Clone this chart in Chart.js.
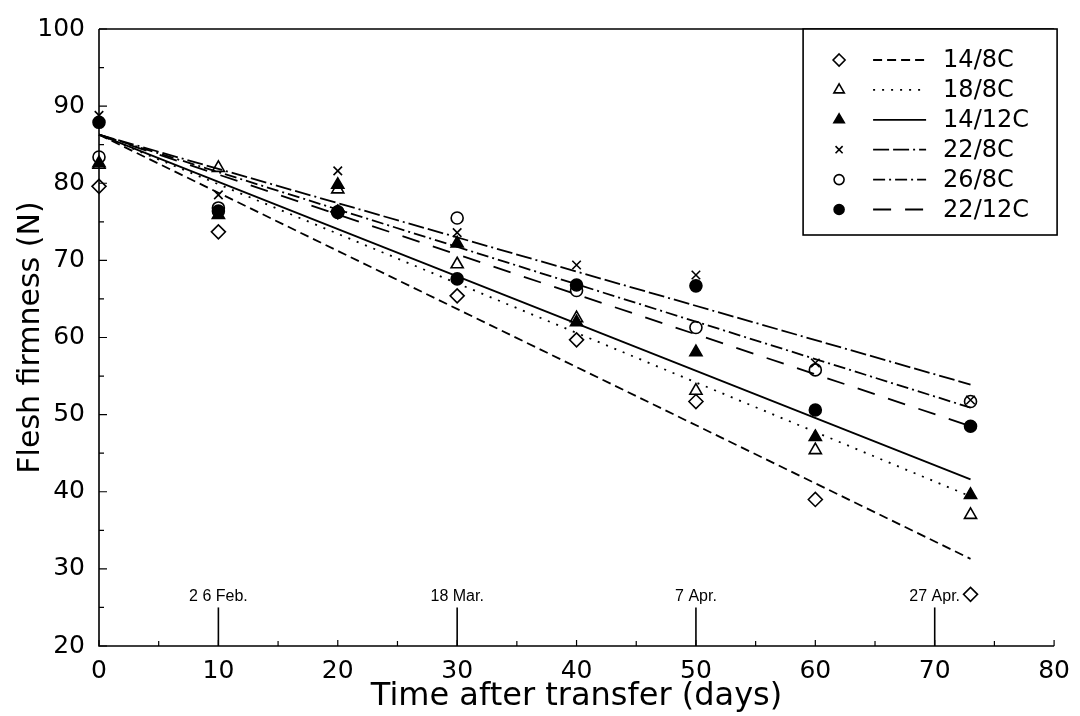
<!DOCTYPE html>
<html>
<head>
<meta charset="utf-8">
<title>Flesh firmness after transfer</title>
<script src="https://cdn.jsdelivr.net/npm/chart.js@4.4.1/dist/chart.umd.min.js"></script>
<style>
  html, body { margin: 0; padding: 0; background: #fff; }
  canvas { display: block; }
</style>
</head>
<body>
<canvas id="firmChart" width="1080" height="716"></canvas>
<script>
const days = [0, 10, 20, 30, 40, 50, 60, 73];
const treatments = ['14/8C', '18/8C', '14/12C', '22/8C', '26/8C', '22/12C'];

const firm_14_8  = [79.6, 73.7, 76.3, 65.4, 59.7, 51.7, 39.0, 26.7];
const firm_18_8  = [82.4, 82.0, 79.2, 69.5, 62.5, 53.1, 45.4, 37.0];
const firm_14_12 = [82.6, 75.9, 79.8, 72.2, 62.0, 58.1, 47.1, 39.6];
const firm_22_8  = [88.8, 78.5, 81.6, 73.6, 69.4, 68.1, 56.7, 51.9];
const firm_26_8  = [83.4, 76.8, 76.3, 75.5, 66.1, 61.3, 55.8, 51.7];
const firm_22_12 = [87.9, 76.4, 76.2, 67.6, 66.8, 66.7, 50.6, 48.5];
const firmness = [firm_14_8, firm_18_8, firm_14_12, firm_22_8, firm_26_8, firm_22_12];

// fitted lines: value at day 0 and day 73
const fitDays  = [0, 73];
const fitStart = [86.3, 86.3, 86.3, 86.3, 86.3, 86.3];
const fitEnd   = [31.3, 39.4, 41.6, 53.9, 50.9, 48.5];

const xTicks = [0, 10, 20, 30, 40, 50, 60, 70, 80];
const yTicks = [20, 30, 40, 50, 60, 70, 80, 90, 100];

// calendar dates marked along the time axis
const dateDays   = [10, 30, 50, 70];
const dateLabels = ['2 6 Feb.', '18 Mar.', '7 Apr.', '27 Apr.'];

// look of each treatment
const markers = ['rectRot', 'triangle', 'triangle', 'crossRot', 'circle', 'circle'];
const filled  = [false, false, true, false, false, true];
const radii   = [7, 7, 7, 6, 6, 6];
const dashes  = [[9, 5], [2, 7], [], [16, 4, 16, 4, 2, 4], [12, 4, 2, 4], [18, 14]];

const tickFont = { family: 'DejaVu Sans', size: 25 };

const pointSets = treatments.map((name, i) => ({
  label: name,
  data: days.map((d, j) => ({ x: d, y: firmness[i][j] })),
  showLine: false,
  pointStyle: markers[i],
  pointRadius: radii[i],
  pointBorderWidth: 1.6,
  pointBorderColor: '#000',
  pointBackgroundColor: filled[i] ? '#000' : 'rgba(0,0,0,0)',
  order: 1,
  clip: false
}));

const lineSets = treatments.map((name, i) => ({
  label: name + ' fit',
  data: [{ x: fitDays[0], y: fitStart[i] }, { x: fitDays[1], y: fitEnd[i] }],
  showLine: true,
  pointRadius: 0,
  borderColor: '#000',
  borderWidth: 1.8,
  borderDash: dashes[i],
  fill: false,
  order: 2,
  clip: false
}));

function drawMarker(ctx, style, x, y, r, fill) {
  ctx.beginPath();
  if (style === 'rectRot') {
    ctx.moveTo(x, y - r); ctx.lineTo(x + r, y); ctx.lineTo(x, y + r); ctx.lineTo(x - r, y); ctx.closePath();
  } else if (style === 'triangle') {
    ctx.moveTo(x, y - r); ctx.lineTo(x + r * 0.866, y + r * 0.5); ctx.lineTo(x - r * 0.866, y + r * 0.5); ctx.closePath();
  } else if (style === 'crossRot') {
    const d = r * 0.707;
    ctx.moveTo(x - d, y - d); ctx.lineTo(x + d, y + d);
    ctx.moveTo(x + d, y - d); ctx.lineTo(x - d, y + d);
  } else {
    ctx.arc(x, y, r, 0, Math.PI * 2);
  }
  if (fill && style !== 'crossRot') { ctx.fillStyle = '#000'; ctx.fill(); }
  ctx.stroke();
}

const framePlugin = {
  id: 'frame',
  afterDraw(chart) {
    const { ctx, chartArea: a, scales: { x, y } } = chart;
    ctx.save();
    ctx.strokeStyle = '#000';
    ctx.lineWidth = 1.6;

    // axes + top rule
    ctx.beginPath();
    ctx.moveTo(a.left, a.top); ctx.lineTo(a.right, a.top);
    ctx.moveTo(a.left, a.top); ctx.lineTo(a.left, a.bottom); ctx.lineTo(a.right, a.bottom);
    ctx.stroke();

    // inward ticks, minor ones half way
    ctx.lineWidth = 1.2;
    ctx.beginPath();
    yTicks.forEach((v, i) => {
      const py = y.getPixelForValue(v);
      ctx.moveTo(a.left, py); ctx.lineTo(a.left + 8, py);
      if (i > 0) {
        const pm = y.getPixelForValue(v - 5);
        ctx.moveTo(a.left, pm); ctx.lineTo(a.left + 5, pm);
      }
    });
    xTicks.forEach((v, i) => {
      const px = x.getPixelForValue(v);
      ctx.moveTo(px, a.bottom); ctx.lineTo(px, a.bottom - 6);
      if (i > 0) {
        const pm = x.getPixelForValue(v - 5);
        ctx.moveTo(pm, a.bottom); ctx.lineTo(pm, a.bottom - 5);
      }
    });
    ctx.stroke();

    // date markers
    ctx.lineWidth = 1.6;
    ctx.fillStyle = '#000';
    ctx.font = '16px "Liberation Sans", Arial, sans-serif';
    ctx.textAlign = 'center';
    ctx.textBaseline = 'bottom';
    dateDays.forEach((d, i) => {
      const px = x.getPixelForValue(d);
      const top = y.getPixelForValue(25);
      ctx.beginPath();
      ctx.moveTo(px, a.bottom); ctx.lineTo(px, top);
      ctx.stroke();
      ctx.fillText(dateLabels[i], px, top - 3);
    });

    // legend box
    const bx = a.right - 251, by = a.top, bw = 254, bh = 206;
    ctx.fillStyle = '#fff';
    ctx.fillRect(bx, by, bw, bh);
    ctx.lineWidth = 1.6;
    ctx.strokeRect(bx, by, bw, bh);
    ctx.font = '24px "DejaVu Sans", sans-serif';
    ctx.textAlign = 'left';
    ctx.textBaseline = 'middle';
    treatments.forEach((name, i) => {
      const ry = by + 31 + i * 29.9;
      ctx.lineWidth = 1.6;
      ctx.setLineDash([]);
      drawMarker(ctx, markers[i], bx + 36, ry, radii[i] - 1, filled[i]);
      ctx.lineWidth = 1.8;
      ctx.setLineDash(dashes[i]);
      ctx.beginPath();
      ctx.moveTo(bx + 70, ry); ctx.lineTo(bx + 123, ry);
      ctx.stroke();
      ctx.setLineDash([]);
      ctx.fillStyle = '#000';
      ctx.fillText(name, bx + 140, ry + 1);
    });
    ctx.restore();
  }
};

new Chart(document.getElementById('firmChart'), {
  type: 'scatter',
  data: { datasets: [...pointSets, ...lineSets] },
  options: {
    responsive: false,
    animation: false,
    layout: { padding: { left: 0, right: 9, top: 7, bottom: 0 } },
    plugins: { legend: { display: false }, tooltip: { enabled: false } },
    scales: {
      x: {
        type: 'linear', min: 0, max: 80,
        afterBuildTicks: s => { s.ticks = xTicks.map(v => ({ value: v })); },
        afterFit: s => { s.height = 70; },
        grid: { display: false, drawTicks: false },
        border: { display: false },
        ticks: { font: tickFont, color: '#000', padding: 10, maxRotation: 0 },
        title: {
          display: true, text: 'Time after transfer (days)', color: '#000',
          font: { family: 'DejaVu Sans', size: 32 }, padding: { top: 0, bottom: 0 }
        }
      },
      y: {
        type: 'linear', min: 20, max: 100,
        afterBuildTicks: s => { s.ticks = yTicks.map(v => ({ value: v })); },
        afterFit: s => { s.width = 99; },
        grid: { display: false, drawTicks: false },
        border: { display: false },
        ticks: { font: tickFont, color: '#000', padding: 14 },
        title: {
          display: true, text: 'Flesh firmness (N)', color: '#000',
          font: { family: 'DejaVu Sans', size: 30 }, padding: { top: 13, bottom: 0 }
        }
      }
    }
  },
  plugins: [framePlugin]
});
</script>
</body>
</html>
